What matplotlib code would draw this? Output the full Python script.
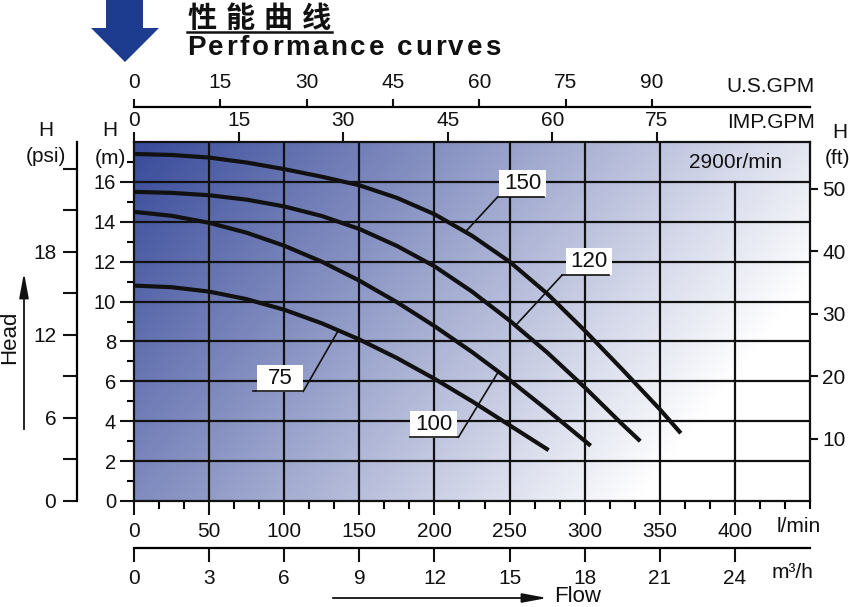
import numpy as np
import matplotlib
matplotlib.use('Agg')
import matplotlib.pyplot as plt
from matplotlib.patches import Polygon, Rectangle, FancyArrowPatch, ArrowStyle
from matplotlib.lines import Line2D
from matplotlib.font_manager import FontProperties

plt.rcParams['font.family'] = ['Liberation Sans', 'DejaVu Sans']

# ---------------- data ----------------
q_150 = [0, 25, 50, 75, 100, 125, 150, 175, 200, 225, 250, 275, 300, 325, 350, 364]
h_150 = [17.4, 17.35, 17.22, 16.97, 16.64, 16.26, 15.83, 15.2, 14.38, 13.3, 12.0, 10.4, 8.55, 6.6, 4.6, 3.4]
q_120 = [0, 25, 50, 75, 100, 125, 150, 175, 200, 225, 250, 275, 300, 325, 337]
h_120 = [15.5, 15.45, 15.33, 15.11, 14.77, 14.29, 13.64, 12.79, 11.77, 10.5, 9.05, 7.45, 5.7, 3.85, 3.0]
q_100 = [0, 25, 50, 75, 100, 125, 150, 175, 200, 225, 250, 275, 300, 304]
h_100 = [14.5, 14.3, 13.95, 13.45, 12.8, 12.0, 11.05, 9.97, 8.77, 7.47, 6.07, 4.57, 3.02, 2.77]
q_75 = [0, 25, 50, 75, 100, 125, 150, 175, 200, 225, 250, 276]
h_75 = [10.8, 10.72, 10.5, 10.12, 9.59, 8.91, 8.1, 7.17, 6.13, 5.0, 3.8, 2.55]

curve_names = ['150', '120', '100', '75']
curve_q = [q_150, q_120, q_100, q_75]
curve_h = [h_150, h_120, h_100, h_75]

lmin_ticks = [0, 50, 100, 150, 200, 250, 300, 350, 400]
m3h_ticks = [0, 3, 6, 9, 12, 15, 18, 21, 24]
usgpm_ticks = [0, 15, 30, 45, 60, 75, 90]
impgpm_ticks = [0, 15, 30, 45, 60, 75]
m_ticks = [0, 2, 4, 6, 8, 10, 12, 14, 16]
ft_ticks = [10, 20, 30, 40, 50]
psi_ticks = [0, 3, 6, 9, 12, 15, 18, 21, 24]
psi_labels = ['0', '', '6', '', '12', '', '18', '', '']

# unit relations as drawn in the picture
LMIN_PER_USGPM = 3.83
LMIN_PER_IMPGPM = 4.64
LMIN_PER_M3H = 50.0 / 3.0
M_PER_FT = 0.313
PSI_PER_M = 1.44
Q_MAX, H_MAX = 450, 18

# ---------------- layout helpers ----------------
W_PX, H_PX = 850, 607
def fx(x): return x / W_PX
def fy(y): return 1 - y / H_PX
def P(x, y): return (fx(x), fy(y))

INK = '#111111'
fig = plt.figure(figsize=(8.5, 6.07), dpi=100)
fig.patch.set_facecolor('white')

L, B = fx(134), fy(501)
Wd, Ht = (810 - 134) / W_PX, (501 - 142) / H_PX
ax = fig.add_axes([L, B, Wd, Ht])

# gradient background
nx, ny = 500, 250
u = np.linspace(0, 1, nx)[None, :]
v = np.linspace(0, 1, ny)[:, None]
t = np.clip(0.86 * u + 0.36 * v, 0, 1)
c0 = np.array([56, 74, 154]) / 255.0
img = c0[None, None, :] + (1 - c0)[None, None, :] * t[..., None]
ax.imshow(img, extent=[0, Q_MAX, 0, H_MAX], origin='upper', aspect='auto',
          zorder=0, interpolation='bilinear')

# grid
for gx in lmin_ticks[1:-1]:
    ax.plot([gx, gx], [0, H_MAX], color=INK, lw=1.6, zorder=1)
ax.plot([lmin_ticks[-1]] * 2, [0, 16], color=INK, lw=1.6, zorder=1)
for gy in m_ticks[1:]:
    ax.plot([0, Q_MAX], [gy, gy], color=INK, lw=1.6, zorder=1)

# curves
for q, h in zip(curve_q, curve_h):
    ax.plot(q, h, color=INK, lw=3.0, solid_capstyle='butt',
            solid_joinstyle='round', zorder=3)

# curve labels with leader lines
lab_center = [(258.7, 15.9), (303.0, 12.0), (199.5, 3.85), (97.3, 6.13)]
lab_under = [(242, 272.7, 15.24), (285, 316, 11.33), (184, 216, 3.2), (79, 112.7, 5.5)]
lab_leader = [((242, 15.24), (220.7, 13.5)), ((285, 11.33), (254, 8.8)),
              ((216, 3.2), (242.7, 6.5)), ((112.7, 5.5), (136, 8.55))]
for name, (cx, cy), (u0, u1, uy), (pa, pb) in zip(curve_names, lab_center, lab_under, lab_leader):
    ax.add_patch(Rectangle((cx - 15.5, cy - 0.68), 31, 1.36, fc='white', ec='none', zorder=4))
    ax.text(cx, cy, name, ha='center', va='center', fontsize=16, color=INK, zorder=5)
    ax.plot([u0, u1], [uy, uy], color=INK, lw=1.2, zorder=5)
    ax.plot([pa[0], pb[0]], [pa[1], pb[1]], color=INK, lw=1.2, zorder=2.5)

ax.text(400.5, 16.95, '2900r/min', ha='center', va='center', fontsize=15, color=INK, zorder=5)

ax.set_xlim(0, Q_MAX)
ax.set_ylim(0, H_MAX)
for s in ax.spines.values():
    s.set_linewidth(1.6)
    s.set_color(INK)
    s.set_zorder(6)
ax.set_xticks(lmin_ticks)
ax.set_xticklabels([str(v) for v in lmin_ticks])
ax.set_xticks([k * LMIN_PER_M3H for k in range(0, 28)], minor=True)
ax.set_yticks(m_ticks)
ax.set_yticklabels([str(v) for v in m_ticks])
ax.set_yticks(list(range(1, 18)), minor=True)
ax.tick_params(axis='x', which='major', direction='out', length=10, width=1.5, pad=5, labelsize=15, colors=INK)
ax.tick_params(axis='x', which='minor', direction='out', length=6, width=1.5)
ax.tick_params(axis='y', which='major', direction='out', length=10, width=1.5, pad=3, labelsize=14.5, colors=INK)
ax.tick_params(axis='y', which='minor', direction='out', length=5, width=1.5)

# top: IMP GPM
axT = ax.twiny()
axT.set_xlim(0, Q_MAX)
axT.set_xticks([v * LMIN_PER_IMPGPM for v in impgpm_ticks])
axT.set_xticklabels([str(v) for v in impgpm_ticks])
axT.tick_params(axis='x', direction='out', length=7, width=1.5, pad=2, labelsize=15, colors=INK)
for s in axT.spines.values():
    s.set_visible(False)

# right: ft
axR = ax.twinx()
axR.set_ylim(0, H_MAX)
axR.set_yticks([v * M_PER_FT for v in ft_ticks])
axR.set_yticklabels([str(v) for v in ft_ticks])
axR.tick_params(axis='y', direction='out', length=6, width=1.5, pad=3, labelsize=15, colors=INK)
for s in axR.spines.values():
    s.set_visible(False)

# US GPM axis line
axU = fig.add_axes([L, fy(107), Wd, 1e-5])
axU.set_xlim(0, Q_MAX)
axU.set_yticks([])
axU.patch.set_visible(False)
for k in ['left', 'right', 'bottom']:
    axU.spines[k].set_visible(False)
axU.spines['top'].set_linewidth(1.6)
axU.xaxis.tick_top()
axU.set_xticks([v * LMIN_PER_USGPM for v in usgpm_ticks])
axU.set_xticklabels([str(v) for v in usgpm_ticks])
axU.tick_params(axis='x', direction='out', length=6, width=1.5, pad=5, labelsize=15, colors=INK)

# m3/h axis line
axM = fig.add_axes([L, fy(548), Wd, 1e-5])
axM.set_xlim(0, Q_MAX / LMIN_PER_M3H)
axM.set_yticks([])
axM.patch.set_visible(False)
for k in ['left', 'right', 'top']:
    axM.spines[k].set_visible(False)
axM.spines['bottom'].set_linewidth(1.6)
axM.set_xticks(m3h_ticks)
axM.set_xticklabels([str(v) for v in m3h_ticks])
axM.tick_params(axis='x', direction='out', length=10, width=1.5, pad=5, labelsize=15, colors=INK)

# psi axis line
axP = fig.add_axes([fx(77), B, 1e-5, Ht])
axP.set_ylim(0, H_MAX * PSI_PER_M)
axP.set_xticks([])
axP.patch.set_visible(False)
for k in ['right', 'bottom', 'top']:
    axP.spines[k].set_visible(False)
axP.spines['left'].set_linewidth(1.6)
axP.set_yticks(psi_ticks)
axP.set_yticklabels(psi_labels)
axP.tick_params(axis='y', direction='out', length=10, width=1.5, pad=5, labelsize=15, colors=INK)

# axis captions
fs = 15
fig.text(*P(46, 131), 'H', ha='center', va='center', fontsize=fs, color=INK)
fig.text(*P(46, 157), '(psi)', ha='center', va='center', fontsize=fs, color=INK)
fig.text(*P(110, 131), 'H', ha='center', va='center', fontsize=fs, color=INK)
fig.text(*P(110, 158), '(m)', ha='center', va='center', fontsize=fs, color=INK)
fig.text(*P(840, 133), 'H', ha='center', va='center', fontsize=fs, color=INK)
fig.text(*P(837, 158), '(ft)', ha='center', va='center', fontsize=fs, color=INK)
fig.text(*P(815, 87), 'U.S.GPM', ha='right', va='center', fontsize=fs, color=INK)
fig.text(*P(815, 123), 'IMP.GPM', ha='right', va='center', fontsize=fs, color=INK)
fig.text(*P(777, 527), 'l/min', ha='left', va='center', fontsize=fs, color=INK)
fig.text(*P(772, 572), 'm\u00b3/h', ha='left', va='center', fontsize=fs, color=INK)

fig.text(*P(10, 337), 'Head', ha='center', va='center', rotation=90, fontsize=16, color=INK)
arrow_style = ArrowStyle('-|>', head_length=1.5, head_width=0.28)
fig.add_artist(FancyArrowPatch(P(24, 432), P(24, 270), transform=fig.transFigure,
                               arrowstyle=arrow_style, mutation_scale=10, lw=1.3, color=INK))
fig.add_artist(FancyArrowPatch(P(330, 598), P(550, 598), transform=fig.transFigure,
                               arrowstyle=arrow_style, mutation_scale=10, lw=1.3, color=INK))
fig.text(*P(554, 597), 'Flow', ha='left', va='center', fontsize=16, color=INK)

# title
fig.add_artist(Polygon([P(106, 0), P(143, 0), P(143, 28), P(159, 28), P(125, 62), P(91, 28), P(106, 28)],
                       closed=True, transform=fig.transFigure, fc='#1d3b8f', ec='none'))

renderer = fig.canvas.get_renderer()
def spaced_text(s, x0, x1, ybase, prop):
    widths = []
    for c in s:
        if c == ' ':
            widths.append(prop.get_size_in_points() * 100 / 72 * 0.28)
        else:
            widths.append(renderer.get_text_width_height_descent(c, prop, ismath=False)[0])
    gap = (x1 - x0 - sum(widths)) / (len(s) - 1)
    x = x0
    for c, w in zip(s, widths):
        if c != ' ':
            fig.text(*P(x, ybase), c, fontproperties=prop, ha='left', va='baseline', color=INK)
        x += w + gap

prop_cn = FontProperties(family=['Noto Sans CJK SC'], size=21, weight='bold')
spaced_text('性能曲线', 187, 331, 27, prop_cn)
fig.add_artist(Line2D([fx(187), fx(332)], [fy(31.5), fy(31.5)], transform=fig.transFigure, lw=1.8, color=INK))
prop_en = FontProperties(family=['Liberation Sans', 'DejaVu Sans'], size=20, weight='bold')
spaced_text('Performance curves', 187, 500, 55, prop_en)

fig.savefig('out.png', dpi=100)
